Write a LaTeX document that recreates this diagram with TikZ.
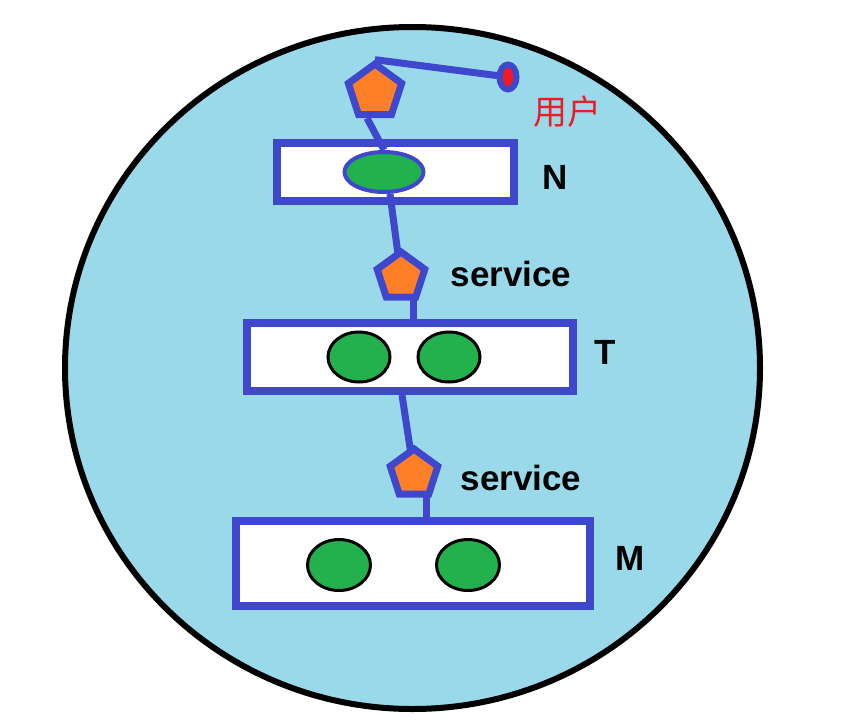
\documentclass[tikz,border=0pt]{standalone}
\usepackage{fontspec}
\setmainfont{Liberation Sans}
\newfontfamily\cjk{Noto Sans CJK SC}
\usetikzlibrary{positioning, shapes.geometric}
\definecolor{sky}{HTML}{99D9EA}
\definecolor{ink}{HTML}{3F48CC}
\definecolor{amber}{HTML}{FF7F27}
\definecolor{leaf}{HTML}{22B14C}
\definecolor{alert}{HTML}{ED1C24}
\pgfdeclarelayer{back}
\pgfdeclarelayer{links}
\pgfsetlayers{back,links,main}

\begin{document}
\begin{tikzpicture}[
  x=1pt, y=-1pt,
  every node/.style={font=\bfseries\fontsize{35}{35}\selectfont}
]
\tikzset{
  zonebox/.style={ellipse, draw=black, line width=6pt, fill=sky,
                  inner sep=0pt},
  tier/.style   ={draw=ink, line width=8pt, fill=white, inner sep=0pt},
  svc/.style    ={regular polygon, regular polygon sides=5, draw=ink,
                  line width=7pt, fill=amber, inner sep=0pt,
                  minimum size=50pt},
  inst/.style   ={ellipse, draw=black, line width=3pt, fill=leaf,
                  inner sep=0pt, minimum width=62pt, minimum height=50pt},
  link/.style   ={draw=ink, line width=7pt},
  lbl/.style    ={inner sep=0pt}
}
\useasboundingbox (0,0) rectangle (854,728);

%% ----- Outer zone and tier boxes -----
\begin{pgfonlayer}{back}
  \node[zonebox, minimum width=695pt, minimum height=682pt]
    (zone) at (412.5,368) {};
  \node[tier, minimum width=237pt, minimum height=58pt]
    (boxN) at (395.5,172) {};
  \node[tier, minimum width=326pt, minimum height=68pt]
    (boxT) at (410,357) {};
  \node[tier, minimum width=354pt, minimum height=85pt]
    (boxM) at (413,563.5) {};
\end{pgfonlayer}

%% ----- Entry point and user -----
\node[svc, minimum size=56pt] (pN) at (375,92) {};
\node[ellipse, draw=ink, line width=6pt, fill=alert, inner sep=0pt,
      minimum width=17pt, minimum height=25pt] (user) at (508,77) {};
\node[lbl, text=alert, font=\cjk\fontsize{34}{34}\selectfont]
  (userlbl) at (567,112) {用户};

%% ----- N tier -----
\node[inst, draw=ink, line width=4pt, minimum width=79pt,
      minimum height=40pt] (eN) at (384,172) {};
\node[lbl] (lblN) at (555,177) {N};

%% ----- T tier -----
\node[svc] (pS1) at (401,277) {};
\node[lbl] (svc1) at (511,274) {service};
\node[inst] (eT1) at (359,357) {};
\node[inst] (eT2) at (449,357) {};
\node[lbl] (lblT) at (605,352) {T};

%% ----- M tier -----
\node[svc] (pS2) at (414,474) {};
\node[lbl] (svc2) at (521,478) {service};
\node[inst, minimum width=63pt, minimum height=51pt] (eM1) at (339,565) {};
\node[inst, minimum width=63pt, minimum height=51pt] (eM2) at (468,565) {};
\node[lbl] (lblM) at (630,558) {M};

%% ----- Links -----
\begin{pgfonlayer}{links}
  \draw[link] (pN.corner 1) -- (user.center);
  \draw[link] ([xshift=-8pt]pN.south) -- (eN.north);
  \draw[link] ([xshift=6pt]eN.south) -- (pS1.center);
  \draw[link] ([xshift=12pt]pS1.center) -- ([xshift=12pt]pS1.center |- boxT.north);
  \draw[link] ([xshift=-8pt]boxT.south) -- (pS2.center);
  \draw[link] ([xshift=12pt]pS2.center) -- ([xshift=12pt]pS2.center |- boxM.north);
\end{pgfonlayer}

\end{tikzpicture}
\end{document}
